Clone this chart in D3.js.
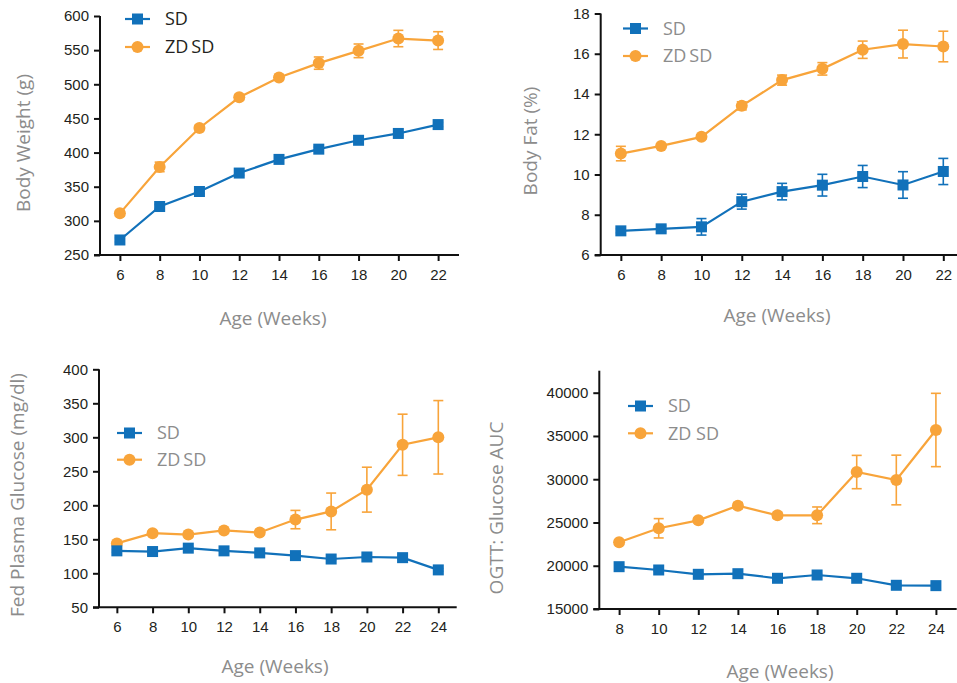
<!DOCTYPE html>
<html>
<head>
<meta charset="utf-8">
<script src="https://cdn.jsdelivr.net/npm/d3@7"></script>
<style>
  body { margin: 0; background: #fff; }
  svg { font-family: "Open Sans", "Noto Sans", sans-serif; }
</style>
</head>
<body>
<svg id="chart" width="957" height="683"></svg>
<script>
// Colors for the two groups
var blue = "#1171ba";
var orange = "#f8a43a";

// Panel 1: body weight
var weeksA = [6, 8, 10, 12, 14, 16, 18, 20, 22];
var weightSD = [272, 321, 343, 370, 390, 405, 418, 428, 441];
var weightSDErr = [3, 3, 3, 3, 3, 3, 3, 3, 3];
var weightZD = [311, 379, 436, 481, 510, 531, 549, 567, 564];
var weightZDErr = [4, 7, 4, 4, 4, 9, 10, 12, 13];
var weightTicks = [250, 300, 350, 400, 450, 500, 550, 600];

// Panel 2: body fat
var fatSD = [7.2, 7.3, 7.4, 8.65, 9.15, 9.47, 9.9, 9.48, 10.15];
var fatSDErr = [0.1, 0.15, 0.41, 0.37, 0.41, 0.54, 0.55, 0.66, 0.65];
var fatZD = [11.04, 11.42, 11.87, 13.41, 14.69, 15.25, 16.2, 16.48, 16.36];
var fatZDErr = [0.36, 0.1, 0.1, 0.2, 0.25, 0.31, 0.43, 0.69, 0.76];
var fatTicks = [6, 8, 10, 12, 14, 16, 18];

// Panel 3: fed plasma glucose
var weeksB = [6, 8, 10, 12, 14, 16, 18, 20, 22, 24];
var glucSD = [133, 132, 137, 133, 130, 126, 121, 124, 123, 105];
var glucSDErr = [2, 2, 2, 2, 2, 2, 2, 2, 2, 2];
var glucZD = [144, 159, 157, 163, 160, 179, 191, 223, 289, 300];
var glucZDErr = [3, 3, 3, 3, 3, 13.5, 27, 33, 45, 54];
var glucTicks = [50, 100, 150, 200, 250, 300, 350, 400];

// Panel 4: OGTT glucose AUC
var weeksC = [8, 10, 12, 14, 16, 18, 20, 22, 24];
var aucSD = [19890, 19510, 19010, 19080, 18550, 18930, 18550, 17740, 17700];
var aucSDErr = [150, 150, 150, 150, 150, 150, 150, 150, 150];
var aucZD = [22710, 24330, 25250, 26940, 25830, 25830, 30830, 29910, 35690];
var aucZDErr = [250, 1117, 250, 350, 350, 963, 1926, 2870, 4238];
var aucTicks = [15000, 20000, 25000, 30000, 35000, 40000];

var svg = d3.select("#chart");

function drawPanel(p) {
    var g = svg.append("g");

    var x = d3.scaleLinear().domain(p.xDomain).range([p.left, p.right]);
    var y = d3.scaleLinear().domain(p.yDomain).range([p.bottom, p.top]);

    // Y axis
    var yAxis = d3.axisLeft(y).tickValues(p.yTicks).tickFormat(d3.format("")).tickSize(6).tickSizeOuter(0).tickPadding(5);
    var ya = g.append("g")
        .attr("transform", "translate(" + p.left + ",0)")
        .call(yAxis);
    ya.select(".domain").remove();
    ya.selectAll("line").attr("stroke", "#111").attr("stroke-width", 2);
    ya.selectAll("text").style("font-size", "15px").attr("fill", "#231f20");

    // X axis
    var xAxis = d3.axisBottom(x).tickValues(p.weeks).tickSize(6).tickSizeOuter(0).tickPadding(8);
    var xa = g.append("g")
        .attr("transform", "translate(0," + p.bottom + ")")
        .call(xAxis);
    xa.select(".domain").remove();
    xa.selectAll("line").attr("stroke", "#111").attr("stroke-width", 2);
    xa.selectAll("text").style("font-size", "15px").attr("fill", "#231f20");

    // Axis lines
    g.append("line")
        .attr("x1", p.left).attr("x2", p.left)
        .attr("y1", p.bottom).attr("y2", p.axisTop)
        .attr("stroke", "#111").attr("stroke-width", 2);
    g.append("line")
        .attr("x1", p.left - 6).attr("x2", p.right)
        .attr("y1", p.bottom).attr("y2", p.bottom)
        .attr("stroke", "#111").attr("stroke-width", 2);

    // Axis titles
    g.append("text")
        .attr("transform", "translate(" + p.yLabelX + "," + p.yLabelY + ") rotate(-90)")
        .attr("text-anchor", "middle")
        .style("font-size", "19px")
        .attr("fill", "#8c8c8c")
        .text(p.yLabel);
    g.append("text")
        .attr("x", p.xLabelX).attr("y", p.xLabelY)
        .attr("text-anchor", "middle")
        .style("font-size", "19px")
        .attr("fill", "#8c8c8c")
        .text("Age (Weeks)");

    var line = d3.line()
        .x(function (d) { return x(d.week); })
        .y(function (d) { return y(d.value); });

    // Build the rows for each group, draw ZD SD first so SD sits on top
    var groups = [
        {name: "zd", color: orange, values: p.zd, errs: p.zdErr},
        {name: "sd", color: blue, values: p.sd, errs: p.sdErr}
    ];

    groups.forEach(function (grp) {
        var rows = p.weeks.map(function (w, i) {
            return {week: w, value: grp.values[i], err: grp.errs[i]};
        });
        var eg = g.append("g");
        // Error bars
        var bars = eg.selectAll("g.err").data(rows).enter().append("g").attr("class", "err");
        bars.append("line")
            .attr("x1", function (d) { return x(d.week); })
            .attr("x2", function (d) { return x(d.week); })
            .attr("y1", function (d) { return y(d.value - d.err); })
            .attr("y2", function (d) { return y(d.value + d.err); })
            .attr("stroke", grp.color).attr("stroke-width", 1.6);
        [-1, 1].forEach(function (s) {
            bars.append("line")
                .attr("x1", function (d) { return x(d.week) - 5; })
                .attr("x2", function (d) { return x(d.week) + 5; })
                .attr("y1", function (d) { return y(d.value + s * d.err); })
                .attr("y2", function (d) { return y(d.value + s * d.err); })
                .attr("stroke", grp.color).attr("stroke-width", 1.6);
        });
        // Line
        eg.append("path")
            .datum(rows)
            .attr("d", line)
            .attr("fill", "none")
            .attr("stroke", grp.color)
            .attr("stroke-width", 2.2);
        // Markers
        if (grp.name === "sd") {
            eg.selectAll("rect").data(rows).enter().append("rect")
                .attr("x", function (d) { return x(d.week) - 5.5; })
                .attr("y", function (d) { return y(d.value) - 5.5; })
                .attr("width", 11).attr("height", 11)
                .attr("fill", grp.color);
        } else {
            eg.selectAll("circle").data(rows).enter().append("circle")
                .attr("cx", function (d) { return x(d.week); })
                .attr("cy", function (d) { return y(d.value); })
                .attr("r", 6)
                .attr("fill", grp.color);
        }
    });

    // Legend
    var leg = g.append("g").attr("transform", "translate(" + p.legX + "," + p.legY + ")");
    var items = [
        {label: "SD", color: blue, shape: "square"},
        {label: p.zdLabel, color: orange, shape: "circle"}
    ];
    items.forEach(function (it, i) {
        var row = leg.append("g").attr("transform", "translate(0," + (i * p.legGap) + ")");
        row.append("line")
            .attr("x1", 0).attr("x2", 25)
            .attr("stroke", it.color).attr("stroke-width", 2.2);
        if (it.shape === "square") {
            row.append("rect").attr("x", 7).attr("y", -5.5)
                .attr("width", 11).attr("height", 11).attr("fill", it.color);
        } else {
            row.append("circle").attr("cx", 12.5).attr("r", 6).attr("fill", it.color);
        }
        row.append("text")
            .attr("x", 40).attr("dy", "0.35em")
            .style("font-size", "18px")
            .attr("fill", p.legColor)
            .text(it.label);
    });
}

drawPanel({
    left: 100, right: 459, top: 16, bottom: 255, axisTop: 16,
    xDomain: [5, 23.05], yDomain: [250, 600], yTicks: weightTicks,
    weeks: weeksA, sd: weightSD, sdErr: weightSDErr, zd: weightZD, zdErr: weightZDErr,
    yLabel: "Body Weight (g)", yLabelX: 30, yLabelY: 143,
    xLabelX: 273, xLabelY: 325,
    legX: 125, legY: 19, legGap: 28, legColor: "#231f20", zdLabel: "ZD\u2009SD"
});

drawPanel({
    left: 600.7, right: 957, top: 13.5, bottom: 255, axisTop: 13.5,
    xDomain: [5, 22.68], yDomain: [6, 18], yTicks: fatTicks,
    weeks: weeksA, sd: fatSD, sdErr: fatSDErr, zd: fatZD, zdErr: fatZDErr,
    yLabel: "Body Fat (%)", yLabelX: 537, yLabelY: 141,
    xLabelX: 777, xLabelY: 322,
    legX: 623, legY: 28.5, legGap: 27.5, legColor: "#8c8c8c", zdLabel: "ZD\u2009SD"
});

drawPanel({
    left: 99, right: 456.7, top: 369.3, bottom: 607.3, axisTop: 369.3,
    xDomain: [5, 25.03], yDomain: [50, 400], yTicks: glucTicks,
    weeks: weeksB, sd: glucSD, sdErr: glucSDErr, zd: glucZD, zdErr: glucZDErr,
    yLabel: "Fed Plasma Glucose (mg/dl)", yLabelX: 24, yLabelY: 495,
    xLabelX: 275, xLabelY: 673,
    legX: 117, legY: 433, legGap: 26.7, legColor: "#8c8c8c", zdLabel: "ZD\u2009SD"
});

drawPanel({
    left: 599.3, right: 956.7, top: 392.7, bottom: 609, axisTop: 370.7,
    xDomain: [7, 25.05], yDomain: [15000, 40000], yTicks: aucTicks,
    weeks: weeksC, sd: aucSD, sdErr: aucSDErr, zd: aucZD, zdErr: aucZDErr,
    yLabel: "OGTT: Glucose AUC", yLabelX: 503, yLabelY: 508,
    xLabelX: 780, xLabelY: 678,
    legX: 628, legY: 406, legGap: 27.3, legColor: "#8c8c8c", zdLabel: "ZD SD"
});
</script>
</body>
</html>
